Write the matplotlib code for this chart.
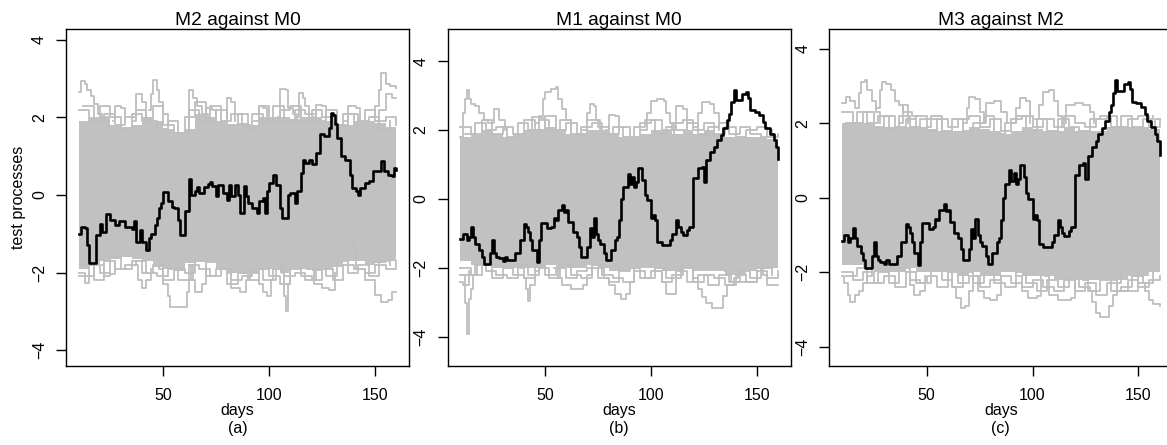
import matplotlib
matplotlib.use('Agg')
import matplotlib.pyplot as plt

GREY = '#bebebe'
CORE_GREY = '#c1c1c1'

# black test process, panel (a): day -> value (step changes)
black_a_days = [10, 11, 13, 14, 15, 18, 20, 21, 23, 25, 27, 29, 32, 35, 36, 37, 39, 40, 42, 43,
                44, 46, 47, 48, 49, 50, 52, 54, 55, 57, 58, 60, 62, 63, 65, 66, 67, 69, 71, 72,
                73, 75, 76, 78, 80, 81, 82, 84, 85, 86, 88, 89, 90, 92, 94, 95, 97, 98, 99, 100,
                102, 103, 105, 106, 109, 110, 112, 113, 115, 116, 117, 119, 120, 122, 124, 126, 128, 129, 130, 131,
                132, 134, 136, 138, 139, 141, 142, 143, 145, 147, 149, 153, 154, 156, 158, 159, 160]
black_a_vals = [-1.0, -0.82, -0.85, -1.28, -1.75, -1.02, -0.75, -0.95, -0.5, -0.65, -0.77, -0.68, -0.83, -0.88, -0.68, -1.2, -0.9, -1.2, -1.41, -1.11,
                -1.0, -0.77, -0.6, -0.34, -0.2, 0.08, -0.16, -0.3, -0.34, -0.64, -1.02, -0.42, 0.40, 0.0, 0.09, 0.2, 0.05, 0.2, 0.28, 0.34,
                0.22, -0.03, 0.27, 0.05, -0.12, 0.27, -0.03, 0.27, 0.0, -0.46, 0.22, -0.03, -0.2, -0.34, -0.46, -0.16, -0.08, -0.46, 0.1, 0.31,
                0.52, 0.27, -0.34, -0.59, 0.0, 0.05, -0.21, 0.09, 0.57, 0.91, 0.83, 0.91, 0.8, 1.08, 1.56, 1.51, 1.73, 2.12, 2.05, 1.82,
                1.47, 1.0, 0.91, 0.52, 0.18, 0.09, 0.0, 0.18, 0.31, 0.35, 0.61, 0.87, 0.61, 0.52, 0.48, 0.70, 0.65]

# black test process, panels (b) and (c) (same process)
black_bc_days = [10, 11, 13, 14, 15, 16, 17, 19, 20, 21, 24, 25, 26, 27, 28, 30, 31, 32, 36, 38,
                 40, 41, 42, 43, 44, 46, 47, 48, 51, 53, 54, 55, 56, 58, 59, 60, 61, 63, 65, 66,
                 67, 70, 71, 72, 73, 74, 75, 76, 78, 79, 81, 83, 84, 85, 86, 87, 89, 90, 91, 92,
                 93, 94, 96, 97, 98, 100, 101, 102, 103, 105, 109, 110, 112, 113, 114, 115, 117, 118, 120, 122,
                 124, 125, 126, 128, 130, 131, 133, 134, 136, 137, 138, 139, 140, 143, 145, 146, 147, 149, 151, 153,
                 154, 156, 158, 159, 160]
black_bc_vals = [-1.17, -1.0, -1.19, -1.09, -0.82, -1.09, -1.29, -1.48, -1.67, -1.88, -1.57, -1.19, -1.57, -1.67, -1.72, -1.79, -1.67, -1.77, -1.57, -1.19,
                 -0.71, -0.8, -0.95, -1.19, -1.48, -1.82, -1.19, -0.69, -0.85, -0.8, -0.56, -0.61, -0.32, -0.17, -0.37, -0.32, -0.66, -0.95, -1.09, -1.38,
                 -1.67, -1.38, -0.85, -1.09, -0.56, -1.0, -1.19, -1.29, -1.57, -1.77, -1.48, -1.19, -1.09, -0.61, 0.0, 0.36, 0.74, 0.45, 0.65, 0.36,
                 0.5, 0.89, 0.55, 0.12, -0.03, -0.56, -0.46, -0.61, -1.24, -1.33, -1.19, -1.0, -0.61, -0.8, -0.95, -1.04, -0.9, -0.8, 0.6, 0.89,
                 0.94, 0.5, 1.13, 1.37, 1.52, 1.71, 1.86, 2.05, 2.29, 2.48, 2.82, 3.16, 2.87, 3.06, 3.11, 2.92, 2.58, 2.53, 2.43, 2.24,
                 2.05, 1.9, 1.71, 1.52, 1.15]

# dense core of the grey simulated processes, read every 5 days
core_days = list(range(10, 161, 5))
core_a_hi = [1.9, 2.0, 2.0, 1.8, 1.75, 1.8, 2.0, 1.9, 1.7, 1.6, 1.7, 2.1, 2.0, 1.9, 1.8, 1.85,
             1.8, 2.0, 2.0, 2.0, 1.95, 2.0, 2.0, 1.9, 1.8, 1.8, 1.9, 1.9, 1.85, 1.75, 1.7]
core_a_lo = [-1.9, -1.8, -1.7, -1.65, -1.6, -1.65, -1.7, -1.85, -1.9, -1.95, -1.75, -1.7, -1.75, -1.9, -2.0, -2.05,
             -2.0, -1.9, -1.9, -2.0, -1.9, -1.9, -1.95, -1.9, -1.85, -1.7, -1.7, -1.8, -1.75, -1.7, -1.65]
core_b_hi = [1.8, 1.9, 2.0, 1.9, 1.8, 1.9, 2.0, 2.0, 2.1, 2.0, 1.9, 1.9, 2.0, 2.0, 1.9, 1.8,
             1.8, 1.9, 2.0, 2.0, 1.9, 2.0, 1.9, 2.0, 1.9, 1.8, 1.8, 1.8, 1.8, 1.75, 1.7]
core_b_lo = [-1.8, -1.9, -1.9, -2.0, -2.0, -2.0, -2.0, -2.0, -1.9, -2.0, -2.0, -2.0, -1.9, -2.0, -2.1, -2.1,
             -2.0, -2.0, -2.0, -2.1, -2.1, -2.0, -2.1, -2.1, -2.1, -2.2, -2.2, -2.1, -2.0, -2.0, -2.0]
core_c_hi = [2.0, 2.0, 2.0, 1.9, 1.9, 1.9, 1.9, 1.9, 1.85, 1.8, 1.8, 1.8, 1.9, 1.85, 1.8, 1.7,
             1.8, 1.9, 1.85, 1.8, 1.8, 1.9, 1.8, 1.8, 1.8, 1.9, 1.9, 1.9, 1.9, 1.85, 1.8]
core_c_lo = [-1.8, -1.8, -1.9, -2.0, -2.0, -2.0, -1.9, -2.0, -2.0, -2.0, -2.0, -2.1, -2.0, -2.1, -2.1, -2.0,
             -2.0, -2.1, -2.1, -2.1, -2.2, -2.2, -2.2, -2.2, -2.2, -2.2, -2.2, -2.1, -2.1, -2.0, -2.0]

# grey processes running along the ragged edge of the core
edge_days1 = list(range(10, 161, 5))
edge_days2 = list(range(12, 161, 5))
edge_a_up1 = [2.2, 1.9, 2.3, 2.0, 1.7, 2.1, 1.9, 2.3, 1.8, 1.6, 2.0, 2.4, 1.9, 2.2, 1.8, 2.1,
              1.7, 2.3, 1.9, 2.2, 2.3, 1.9, 2.2, 2.0, 1.8, 2.1, 1.8, 2.2, 1.9, 2.0, 1.8]
edge_a_up2 = [2.3, 1.9, 2.1, 1.8, 2.0, 2.2, 1.9, 1.7, 1.9, 1.6, 2.2, 1.9, 2.3, 1.9, 2.1,
              1.8, 2.1, 1.9, 2.3, 1.9, 2.2, 2.1, 1.9, 2.2, 1.8, 2.1, 1.9, 2.0, 1.7, 1.9]
edge_a_lo1 = [-2.1, -1.8, -2.0, -1.6, -1.9, -1.7, -2.0, -1.8, -2.2, -1.9, -2.0, -1.7, -2.1, -1.9, -2.3, -2.0,
              -2.2, -1.9, -2.1, -2.3, -1.9, -2.1, -2.2, -1.9, -2.2, -1.8, -1.9, -2.0, -1.8, -1.9, -1.7]
edge_a_lo2 = [-1.8, -2.2, -1.7, -1.9, -1.8, -1.7, -2.0, -2.1, -1.9, -2.2, -1.8, -1.9, -2.1, -1.9, -2.2,
              -2.1, -1.9, -2.2, -1.9, -2.1, -2.0, -2.2, -1.9, -2.1, -1.7, -2.0, -1.8, -2.1, -1.7, -1.8]
edge_b_up1 = [2.1, 1.9, 2.3, 1.9, 2.1, 1.9, 2.3, 2.0, 2.4, 2.0, 2.2, 1.9, 2.3, 2.1, 1.9, 2.1,
              1.8, 2.2, 2.3, 2.0, 2.2, 2.3, 2.0, 2.2, 1.9, 2.1, 1.8, 2.0, 2.1, 1.8, 1.9]
edge_b_up2 = [1.9, 2.2, 2.0, 2.1, 1.8, 2.2, 2.0, 2.3, 2.0, 2.3, 1.9, 2.1, 2.2, 1.9, 2.1,
              1.8, 2.1, 2.3, 1.9, 2.1, 2.0, 2.2, 1.9, 2.1, 2.2, 1.9, 2.1, 1.9, 1.8, 2.0]
edge_b_lo1 = [-2.0, -2.2, -1.9, -2.3, -2.0, -2.2, -2.3, -1.9, -2.2, -2.0, -2.3, -2.1, -2.0, -2.3, -2.4, -2.1,
              -2.0, -2.3, -2.1, -2.4, -2.2, -2.0, -2.4, -2.2, -2.3, -2.5, -2.2, -2.4, -2.1, -2.3, -2.1]
edge_b_lo2 = [-2.2, -1.9, -2.1, -2.2, -2.3, -1.9, -2.2, -2.0, -2.3, -1.9, -2.2, -2.3, -1.9, -2.2, -2.3,
              -2.4, -2.1, -2.3, -2.0, -2.3, -2.1, -2.4, -2.2, -2.5, -2.2, -2.4, -2.1, -2.3, -2.0, -2.2]
edge_c_up1 = [2.3, 2.0, 2.3, 1.9, 2.2, 1.9, 2.1, 2.2, 1.8, 2.1, 1.9, 2.1, 2.2, 1.9, 2.1, 1.8,
              2.1, 2.2, 1.9, 2.1, 1.9, 2.2, 2.0, 1.9, 2.1, 2.2, 1.9, 2.1, 2.2, 1.9, 2.1]
edge_c_up2 = [2.0, 2.3, 2.0, 2.2, 1.8, 2.2, 1.9, 2.1, 2.2, 1.8, 2.1, 1.8, 2.0, 2.2, 1.7,
              2.0, 2.2, 1.8, 2.1, 1.8, 2.1, 1.9, 1.8, 2.1, 2.2, 1.9, 2.2, 1.9, 2.1, 2.2]
edge_c_lo1 = [-2.0, -2.2, -2.0, -2.3, -2.1, -2.4, -2.0, -2.3, -2.1, -2.4, -2.0, -2.3, -2.1, -2.4, -2.2, -2.1,
              -2.3, -2.4, -2.2, -2.4, -2.5, -2.2, -2.5, -2.3, -2.6, -2.3, -2.5, -2.2, -2.4, -2.2, -2.1]
edge_c_lo2 = [-2.1, -1.9, -2.3, -2.0, -2.3, -1.9, -2.2, -2.3, -1.9, -2.2, -2.4, -2.0, -2.3, -2.0, -2.3,
              -2.4, -2.0, -2.3, -2.5, -2.2, -2.4, -2.1, -2.4, -2.5, -2.2, -2.5, -2.4, -2.1, -2.3, -2.0]

# grey processes that leave the core (days, values)
grey_a = [
    ([10, 11, 13, 14, 16, 17, 19, 21, 24], [2.65, 2.95, 2.85, 2.7, 2.55, 2.35, 2.1, 2.0, 1.7]),
    ([26, 27, 30, 32], [1.9, 2.3, 2.25, 1.9]),
    ([36, 37, 40, 42], [1.9, 2.6, 2.4, 1.9]),
    ([43, 44, 45, 47, 48, 50, 52], [2.2, 2.6, 2.97, 2.7, 2.4, 2.1, 1.8]),
    ([61, 62, 64, 66, 68, 71], [1.6, 2.7, 2.5, 2.3, 2.1, 1.8]),
    ([69, 70, 73, 75], [1.9, 2.25, 2.2, 1.8]),
    ([79, 80, 82, 84], [1.9, 2.5, 2.4, 1.9]),
    ([93, 95, 97, 99], [1.9, 2.3, 2.25, 1.9]),
    ([104, 105, 108, 109, 111, 113], [2.0, 2.72, 2.7, 2.25, 2.1, 1.8]),
    ([113, 114, 116, 117, 119], [2.0, 2.63, 2.5, 2.3, 1.9]),
    ([121, 122, 125, 127], [2.0, 2.33, 2.3, 1.9]),
    ([136, 137, 141, 143], [1.9, 2.3, 2.25, 1.9]),
    ([148, 150, 152, 153, 155, 157, 160], [2.0, 2.3, 2.7, 3.15, 2.85, 2.8, 2.75]),
    ([150, 152, 155, 158, 160], [1.9, 2.2, 2.6, 2.5, 2.5]),
    ([10, 12, 13, 15, 17], [-2.0, -2.0, -2.27, -2.1, -1.8]),
    ([21, 22, 25, 27], [-1.8, -2.1, -2.05, -1.7]),
    ([36, 38, 40, 42, 44], [-1.8, -2.2, -2.4, -2.2, -1.9]),
    ([47, 48, 50, 52, 53, 60, 61, 62, 64], [-1.8, -1.9, -2.3, -2.6, -2.88, -2.9, -2.5, -2.2, -1.8]),
    ([62, 63, 65, 68, 70], [-1.8, -2.2, -2.5, -2.3, -1.9]),
    ([80, 82, 86, 89, 91], [-2.0, -2.4, -2.5, -2.2, -1.9]),
    ([92, 95, 97, 99, 101, 103], [-2.0, -2.3, -2.5, -2.6, -2.2, -1.9]),
    ([105, 106, 107, 108, 109, 110], [-1.8, -2.0, -2.6, -3.0, -2.3, -1.9]),
    ([118, 121, 125, 128, 131], [-1.9, -2.3, -2.4, -2.45, -2.0]),
    ([138, 140, 141, 145, 147, 150, 153, 156, 158, 160], [-1.2, -1.37, -1.9, -2.2, -2.2, -2.57, -2.75, -2.7, -2.5, -2.5]),
]
grey_b = [
    ([10, 11, 12, 13, 14, 15, 17, 19, 21, 23, 26, 28, 31], [1.8, 2.5, 2.9, 3.15, 2.9, 2.75, 2.7, 2.5, 2.3, 2.2, 2.6, 2.3, 2.0]),
    ([42, 44, 48, 50], [2.0, 2.39, 2.35, 2.0]),
    ([45, 47, 49, 50, 53, 55, 56, 58, 60, 62], [2.2, 2.4, 2.9, 3.1, 3.2, 3.25, 2.9, 2.6, 2.3, 2.0]),
    ([68, 70, 71, 73, 74, 76], [2.0, 2.5, 2.75, 2.7, 2.3, 2.0]),
    ([79, 80, 83, 85], [2.0, 2.45, 2.4, 2.0]),
    ([96, 98, 100, 103, 106, 107, 109, 111], [2.0, 2.5, 2.85, 2.9, 2.85, 2.5, 2.2, 1.9]),
    ([110, 112, 115, 117], [2.0, 2.7, 2.6, 2.0]),
    ([120, 122, 124, 128, 130, 132], [2.1, 2.5, 2.8, 2.75, 2.5, 2.0]),
    ([10, 11, 12, 13, 14, 15, 16, 18], [-2.4, -2.5, -3.0, -3.9, -2.9, -2.6, -2.2, -1.9]),
    ([10, 12, 14], [-2.2, -2.5, -2.1]),
    ([38, 40, 41, 42, 43, 45, 47], [-2.0, -2.3, -2.6, -2.95, -2.5, -2.1, -1.9]),
    ([54, 56, 58, 62, 66, 68, 70, 72], [-2.0, -2.3, -2.5, -2.6, -2.6, -2.5, -2.2, -1.9]),
    ([76, 78, 80, 83, 86, 88, 90, 92], [-2.0, -2.3, -2.5, -2.75, -2.9, -2.75, -2.4, -2.0]),
    ([103, 105, 107, 110, 112, 114], [-2.1, -2.4, -2.75, -2.75, -2.3, -1.9]),
    ([118, 120, 122, 124, 126, 129, 133, 134, 136, 139, 141], [-2.0, -2.3, -2.6, -2.85, -3.0, -3.15, -3.15, -2.8, -2.5, -2.3, -2.0]),
    ([135, 138, 145, 150], [-2.1, -2.4, -2.4, -2.1]),
    ([150, 153, 155, 160], [-2.0, -2.2, -2.5, -2.5]),
]
grey_c = [
    ([10, 12, 14, 16, 18, 19, 21, 22, 24, 26, 28], [2.55, 2.7, 2.6, 2.4, 2.8, 3.1, 3.15, 2.9, 2.6, 2.3, 2.0]),
    ([26, 28, 29, 31, 33, 35, 37, 39, 41], [2.4, 2.9, 3.1, 3.05, 2.9, 2.6, 2.5, 2.3, 2.0]),
    ([37, 39, 41, 43, 45], [2.0, 2.5, 2.3, 2.2, 1.9]),
    ([50, 52, 55, 57], [1.9, 2.1, 2.1, 1.9]),
    ([67, 69, 70, 73, 75, 77], [2.0, 2.4, 2.7, 2.65, 2.3, 2.0]),
    ([76, 78, 82, 85, 88], [2.0, 2.55, 2.6, 2.3, 2.0]),
    ([90, 92, 94, 97, 99], [2.0, 2.4, 2.68, 2.6, 2.0]),
    ([101, 103, 105, 108, 110, 112, 114], [2.1, 2.5, 2.85, 2.9, 2.6, 2.2, 1.9]),
    ([114, 116, 120, 124, 127, 129], [2.0, 2.5, 2.55, 2.5, 2.3, 2.0]),
    ([155, 158, 160], [1.9, 2.1, 2.1]),
    ([10, 11, 13, 14, 16, 18, 20, 22, 24], [-2.1, -2.3, -2.6, -2.8, -2.6, -2.5, -2.3, -2.1, -1.9]),
    ([40, 42, 44, 47, 49], [-2.0, -2.35, -2.6, -2.5, -2.1]),
    ([60, 62, 64, 66, 68, 70, 72], [-2.0, -2.4, -2.7, -2.95, -2.9, -2.5, -2.1]),
    ([72, 74, 77, 80, 83, 85], [-2.1, -2.5, -2.7, -2.75, -2.6, -2.1]),
    ([93, 95, 98, 102, 104], [-2.1, -2.5, -2.7, -2.65, -2.1]),
    ([106, 108, 112, 118, 120], [-2.1, -2.6, -2.75, -2.7, -2.2]),
    ([124, 126, 128, 130, 132, 135, 136, 138, 140, 142], [-2.2, -2.5, -2.8, -3.1, -3.2, -3.2, -2.9, -2.6, -2.3, -2.0]),
    ([138, 140, 145, 150], [-2.2, -2.5, -2.5, -2.2]),
    ([148, 150, 153, 155, 157, 160], [-2.1, -2.3, -2.5, -2.75, -2.85, -2.9]),
]

titles = ['M2 against M0', 'M1 against M0', 'M3 against M2']
letters = ['(a)', '(b)', '(c)']
ylims = [(-4.41, 4.28), (-4.84, 4.93), (-4.52, 4.53)]
lefts = [66, 447.7, 829.3]

plt.rcParams['font.family'] = ['Liberation Sans', 'DejaVu Sans']


def draw_panel(ax, core_lo, core_hi, edges, greys, bdays, bvals, title, letter, ylim):
    ax.fill_between(core_days, core_lo, core_hi, step='post', color=CORE_GREY, lw=0)
    for days, vals in edges + greys:
        ax.step(days, vals, where='post', color=GREY, lw=1.3)
    ax.step(bdays, bvals, where='post', color='black', lw=1.9)

    ax.set_xlim(4, 166)
    ax.set_ylim(*ylim)
    ax.set_xticks([50, 100, 150])
    ax.set_yticks([-4, -2, 0, 2, 4])
    ax.tick_params(axis='both', length=7.2, width=1.0, labelsize=11.5, color='black')
    ax.tick_params(axis='x', pad=9)
    ax.tick_params(axis='y', pad=6.5, labelrotation=90)
    for lab in ax.get_yticklabels():
        lab.set_va('center')
    for sp in ax.spines.values():
        sp.set_linewidth(1.0)
    ax.set_title(title, fontsize=13.8, pad=2)
    ax.set_xlabel('days\n' + letter, fontsize=11.5, labelpad=0, linespacing=1.2)


if __name__ == '__main__':
    W, H = 1167, 445
    fig = plt.figure(figsize=(W / 100, H / 100), dpi=100)
    cores = [(core_a_lo, core_a_hi), (core_b_lo, core_b_hi), (core_c_lo, core_c_hi)]
    edges = [
        [(edge_days1, edge_a_up1), (edge_days2, edge_a_up2), (edge_days1, edge_a_lo1), (edge_days2, edge_a_lo2)],
        [(edge_days1, edge_b_up1), (edge_days2, edge_b_up2), (edge_days1, edge_b_lo1), (edge_days2, edge_b_lo2)],
        [(edge_days1, edge_c_up1), (edge_days2, edge_c_up2), (edge_days1, edge_c_lo1), (edge_days2, edge_c_lo2)],
    ]
    greys = [grey_a, grey_b, grey_c]
    blacks = [(black_a_days, black_a_vals), (black_bc_days, black_bc_vals), (black_bc_days, black_bc_vals)]
    for i in range(3):
        ax = fig.add_axes([lefts[i] / W, (H - 366) / H, 343 / W, 337 / H])
        draw_panel(ax, cores[i][0], cores[i][1], edges[i], greys[i], blacks[i][0], blacks[i][1],
                   titles[i], letters[i], ylims[i])
        if i == 0:
            ax.set_ylabel('test processes', fontsize=11.5, labelpad=4)
    fig.savefig('out.png', dpi=100)
